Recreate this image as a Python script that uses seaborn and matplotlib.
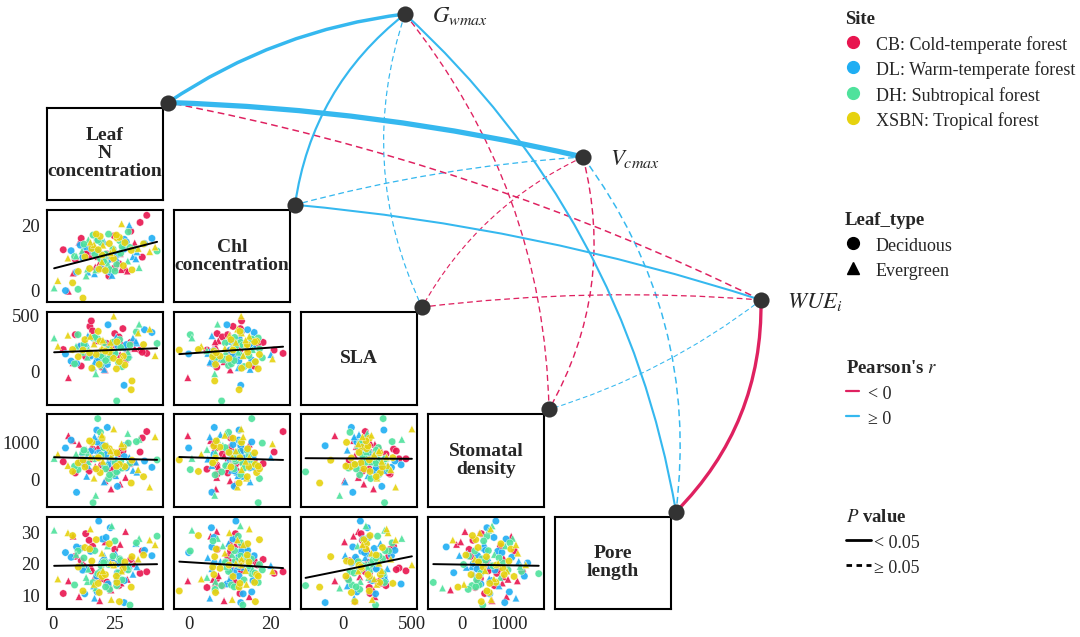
import numpy as np
import pandas as pd
import seaborn as sns
import matplotlib.pyplot as plt
from matplotlib.path import Path
from matplotlib.patches import PathPatch
from matplotlib.lines import Line2D

sns.set_style('white')
plt.rcParams['font.family'] = ['Liberation Serif', 'DejaVu Serif']
plt.rcParams['mathtext.fontset'] = 'stix'

# ---- trait values (one entry per sampled leaf) ----
leaf_n = [12.4, 25.1, 18.3, 31.6, 8.2, 22.7, 15.0, 27.3, 35.4, 19.8, 10.6, 24.2, 29.5, 16.1, 21.9, 6.3, 33.2, 14.7, 26.8, 20.4,
          17.2, 38.1, 11.5, 23.6, 28.4, 13.3, 30.2, 9.1, 19.0, 24.9, 36.3, 15.6, 21.2, 27.7, 4.2, 18.6, 32.5, 22.1, 12.9, 25.5,
          20.1, 14.2, 29.0, 7.4, 34.1, 23.3, 16.5, 26.2, 11.1, 19.4, 40.2, 21.6, 13.7, 28.9, 24.0, 17.8, 9.6, 31.0, 22.4, 15.3,
          26.3, 18.0, 33.7, 12.1, 20.8, 25.7, 5.1, 29.8, 16.9, 37.2, 22.6, 14.0, 27.1, 19.3, 10.2, 23.9, 30.6, 17.4, 42.3, 21.0,
          13.5, 24.4, 19.6, 35.0, 8.8, 27.5, 16.3, 22.2, 31.3, 11.8, 25.9, 18.2, 0.5, 28.1, 20.6, 14.4, 33.9, 23.0, 9.4, 26.6,
          17.0, 30.4, 21.4, 12.6, 25.2, 39.3, 15.8, 23.7, 19.2, 28.6, 6.1, 20.0, 32.1, 16.7, 24.6, 13.0, 27.9, 18.8, 34.6, 22.9,
          10.3, 26.0, 19.9, 29.2, 15.2, 21.3, 36.8, 12.2, 24.7, 17.6, 2.0, 31.8, 20.3, 14.9, 27.0, 23.4, 8.0, 18.4, 41.5, 25.8]
chl = [11.3, 7.0, 10.5, 18.3, 5.4, 4.5, 10.9, 11.4, 21.0, 6.9, 14.9, 9.8, 6.9, 13.1, 11.3, -0.2, 14.7, 11.8, 8.3, 10.0,
       7.3, 23.2, 16.1, 6.7, 12.7, 11.5, 6.0, 9.6, 8.7, 16.9, 10.3, 13.0, 10.2, 6.5, 12.6, 11.6, 10.5, 6.3, 13.4, 12.1,
       10.9, 5.7, 15.8, 12.3, 11.9, 5.6, 12.2, 11.2, 14.0, 7.8, 16.1, 6.2, 13.6, 12.8, 4.7, 12.4, 5.7, 20.2, 9.4, 12.9,
       11.2, 15.5, 9.8, 10.2, 15.1, 10.1, 0.0, 15.0, 5.2, 14.5, 17.4, 6.6, 15.4, 9.8, 0.4, 12.7, 18.1, 6.4, 12.2, 9.1,
       4.5, 12.8, 14.8, 7.1, 10.5, 11.5, 17.1, 8.4, 13.3, 12.2, 8.1, 15.5, 0.8, 13.6, 9.0, 15.7, 12.8, 6.5, 10.7, 16.3,
       11.3, 9.1, 11.2, 14.3, 6.0, 12.0, 13.0, 10.7, 16.7, 7.7, 10.0, 10.9, 6.4, 14.2, 9.9, 10.4, 20.6, 6.6, 13.0, 14.5,
       5.9, 16.2, 8.9, 14.8, 14.9, 6.2, 14.4, -2.3, 12.9, 17.4, 3.1, 12.4, 14.0, 6.8, 16.4, 11.6, 2.4, 12.6, 13.4, 17.1]
sla = [215, 340, 120, 260, 75, 190, 405, 150, 190, 35, 230, 180, 110, 365, 250, -60, 205, 140, 310, 95,
       275, 160, 45, 220, 385, 130, 200, 330, 85, 240, 170, 455, 10, 265, 195, 125, 300, 60, 235, 180,
       145, 320, 210, 90, 255, 175, 30, 280, 225, 115, 350, 185, 245, -130, 160, 295, 70, 150, 420, 135,
       230, 100, 270, 190, 15, 310, 155, 240, 80, 375, 200, 125, 285, 50, 330, 165, 120, -25, 250, 110,
       185, 260, 140, 425, 65, 215, 300, 105, 235, 170, -272, 290, 300, 40, 255, 195, 355, 120, 225, 80,
       305, 175, 95, 240, 160, 380, 25, 210, 270, 135, 325, 190, -90, 245, 115, 285, 110, 60, 345, 170,
       130, 265, 205, 55, 315, 180, 240, 190, 498, 150, 225, -170, 280, 165, 85, 260, 195, 360, 140, 20]
stomatal = [620, 150, 880, 430, 1050, 280, 560, -120, 740, 390, 950, 510, 60, 820, 340, 1180, 470, 230, 690, 890,
            350, 1290, 520, -250, 770, 410, 980, 180, 640, 300, 1120, 560, -30, 860, 480, 720, 250, 1400, 590, 110,
            940, 380, 620, 1060, 200, 530, 790, -180, 450, 1210, 330, 680, 90, 910, 550, 1330, -340, 600, 400, 760,
            240, 1010, 470, 700, -60, 580, 850, 320, 1150, 500, 30, 730, 420, 1270, 270, 640, 980, -420, 530, 370,
            810, 140, 660, 1080, 360, 500, -617, 920, 440, 750, 210, 1637, 570, 310, 860, 480, 1020, 130, 690, 400,
            560, 1240, 290, 790, 460, -200, 1000, 620, 190, 870, 380, 1110, 520, 40, 730, 340, 960, 580, 270, 830,
            450, 720, 1190, 350, 610, 900, 80, 530, 1360, 290, 680, -90, 490, 1040, 410, 770, 220, 590, 1150, 360]
pore = [19.2, 24.5, 15.8, 21.3, 28.7, 12.4, 18.6, 26.1, 16.9, 15.2, 9.5, 20.4, 30.2, 25.5, 14.1, 14.5, 19.9, 27.4, 13.0, 21.7,
        16.2, 17.4, 20.9, 11.6, 18.1, 29.5, 15.0, 22.3, 8.2, 19.6, 24.0, 17.7, 26.9, 13.8, 10.5, 33.5, 16.6, 20.2, 10.4, 23.1,
        27.8, 18.4, 14.6, 22.0, 19.0, 31.4, 12.9, 17.1, 24.8, 20.7, 22.5, 28.3, 18.8, 7.6, 21.9, 16.0, 25.3, 19.4, 13.5, 23.9,
        20.0, 11.0, 26.4, 17.9, 22.6, 15.2, 23.5, 18.3, 9.0, 24.2, 19.7, 14.3, 21.5, 17.5, 24.0, 32.0, 18.0, 12.2, 28.7, 20.6,
        15.6, 22.4, 19.3, 28.0, 13.2, 21.0, 14.0, 25.6, 6.8, 19.8, 13.0, 16.8, 30.6, 14.8, 20.3, 18.2, 26.6, 11.8, 22.9, 17.0,
        24.1, 19.1, 12.6, 21.8, 27.2, 27.5, 20.8, 8.6, 16.5, 18.5, 29.8, 15.9, 22.2, 13.4, 19.5, 25.1, 17.6, 10.8, 21.4, 26.3,
        18.9, 14.0, 23.3, 20.5, 31.0, 16.5, 22.7, 11.3, 19.6, 27.6, 15.1, 12.5, 17.8, 24.6, 7.9, 20.1, 28.9, 13.7, 26.0, 16.0]
# D = deciduous, E = evergreen
leaf_code = ("DDEDEDDEDDEDEDDEEDDE" "EDDEDDEDEDDDEEDDEDDE" "DEDDEDEDDEDDEDEDDEDD"
             "DDEDEEDDEDDEDDDEDEDD" "EDDEDDDEDEDDEDDEDDED" "DEDDDEDEDDEDDEDDEDED"
             "DDEDEDDDEDEDEDDEDDED")

site_names = ['CB', 'DL', 'DH', 'XSBN']
site_labels = ['CB: Cold-temperate forest', 'DL: Warm-temperate forest',
               'DH: Subtropical forest', 'XSBN: Tropical forest']
site_colors = ['#E8154F', '#1FAEF3', '#4FE29C', '#E6D20E']

traits = ['leaf_n', 'chl', 'sla', 'stomatal', 'pore']
trait_labels = ['Leaf\nN\nconcentration', 'Chl\nconcentration', 'SLA',
                'Stomatal\ndensity', 'Pore\nlength']
trait_lims = [(-2.4, 44.7), (-3.6, 24.9), (-305, 535), (-730, 1750), (5.5, 34.9)]
trait_ticks = [[0, 25], [0, 20], [0, 500], [0, 1000], [10, 20, 30]]

# ---- Mantel-style links: environment variable -> trait ----
env_labels = [r'$G_{wmax}$', r'$V_{cmax}$', r'$WUE_i$']
r_values = [[0.38, 0.21, 0.08, -0.10, 0.20],
            [0.62, 0.09, -0.07, -0.11, 0.12],
            [-0.12, 0.19, -0.09, 0.06, -0.36]]
p_values = [[0.001, 0.010, 0.310, 0.220, 0.012],
            [0.001, 0.270, 0.380, 0.180, 0.140],
            [0.150, 0.020, 0.260, 0.450, 0.001]]
curvature = [[-0.12, -0.2, -0.2, 0.17, 0.17],
             [-0.05, -0.05, -0.16, 0.2, 0.2],
             [-0.067, -0.056, -0.05, 0.09, 0.21]]
env_xy = [(405, 14), (583, 157), (761, 300)]

RED = '#DF2160'
BLUE = '#35B8EF'

df = pd.DataFrame({'leaf_n': leaf_n, 'chl': chl, 'sla': sla,
                   'stomatal': stomatal, 'pore': pore})
df['Site'] = np.repeat(site_names, len(df) // 4)
df['Leaf_type'] = ['Deciduous' if c == 'D' else 'Evergreen' for c in leaf_code]

W, H = 1080, 637
fig = plt.figure(figsize=(W / 100, H / 100), dpi=100)


def px_axes(x, y, w, h, **kw):
    return fig.add_axes([x / W, 1 - (y + h) / H, w / W, h / H], **kw)


col_x = [47 + 127 * k for k in range(5)]
row_y = [107.5 + 102.3 * k for k in range(5)]
pw, ph = 116, 92.5
node_xy = []

for i in range(5):
    for j in range(i + 1):
        ax = px_axes(col_x[j], row_y[i], pw, ph)
        for s in ax.spines.values():
            s.set_color('black')
            s.set_linewidth(1.5)
        if i == j:
            ax.set_xticks([])
            ax.set_yticks([])
            ax.text(0.5, 0.5, trait_labels[i], ha='center', va='center',
                    fontsize=14, fontweight='bold', linespacing=1.08,
                    transform=ax.transAxes)
            node_xy.append((col_x[j] + pw + 5, row_y[i] - 5))
            continue
        sns.scatterplot(data=df, x=traits[j], y=traits[i], hue='Site',
                        hue_order=site_names, palette=site_colors,
                        style='Leaf_type', markers={'Deciduous': 'o', 'Evergreen': '^'},
                        s=28, linewidth=0.3, edgecolor='white', alpha=0.9,
                        legend=False, ax=ax)
        sns.regplot(data=df, x=traits[j], y=traits[i], scatter=False, ci=None,
                    truncate=True, color='black', line_kws={'lw': 1.4}, ax=ax)
        ax.set_xlim(trait_lims[j])
        ax.set_ylim(trait_lims[i])
        ax.set_xlabel('')
        ax.set_ylabel('')
        ax.set_xticks(trait_ticks[j])
        ax.set_yticks(trait_ticks[i])
        ax.tick_params(length=3, width=0.8, colors='#333333', labelsize=13.5,
                       labelcolor='#222222', pad=2)
        if j > 0:
            ax.set_yticklabels([])
            ax.tick_params(axis='y', length=0)
        if i < 4:
            ax.set_xticklabels([])
            ax.tick_params(axis='x', length=0)

# ---- overlay with links and nodes ----
ov = fig.add_axes([0, 0, 1, 1], zorder=5)
ov.set_xlim(0, W)
ov.set_ylim(H, 0)
ov.axis('off')
ov.patch.set_alpha(0)

edges = []
for e in range(3):
    for t in range(5):
        edges.append((p_values[e][t] < 0.05, e, t))
edges.sort(key=lambda k: k[0])
for solid, e, t in edges:
    r = r_values[e][t]
    (x1, y1), (x2, y2) = env_xy[e], node_xy[t]
    dx, dy = x2 - x1, y2 - y1
    c = curvature[e][t]
    cx, cy = (x1 + x2) / 2 + c * dy, (y1 + y2) / 2 - c * dx
    path = Path([(x1, y1), (cx, cy), (x2, y2)], [Path.MOVETO, Path.CURVE3, Path.CURVE3])
    lw = (0.6 + 7.5 * abs(r)) * 0.72
    ls = '-' if solid else (0, (4.5, 2.8))
    ov.add_patch(PathPatch(path, fill=False, edgecolor=RED if r < 0 else BLUE,
                           lw=lw, linestyle=ls, capstyle='butt'))

all_nodes = env_xy + node_xy
ov.scatter([p[0] for p in all_nodes], [p[1] for p in all_nodes], s=135,
           color='#333333', zorder=10, linewidths=0)
label_off = [(27, 2), (27, 2), (26, 2)]
for (x, y), lab, (ox, oy) in zip(env_xy, env_labels, label_off):
    ov.text(x + ox, y + oy, lab, fontsize=16.5, ha='left', va='center')

# ---- legends ----
leg_kw = dict(loc='upper left', frameon=False, fontsize=13, borderpad=0,
              borderaxespad=0, alignment='left', labelspacing=0.35,
              handleheight=1.17,
              title_fontproperties={'weight': 'bold', 'size': 13.5})

h_site = [Line2D([], [], marker='o', ls='', color=c, markersize=8.5) for c in site_colors]
fig.legend(h_site, site_labels, title='Site', bbox_to_anchor=(845 / W, 1 - 11 / H),
           handlelength=0.9, handletextpad=0.8, **leg_kw)

h_leaf = [Line2D([], [], marker=m, ls='', color='black', markersize=ms)
          for m, ms in [('o', 8.5), ('^', 8.5)]]
fig.legend(h_leaf, ['Deciduous', 'Evergreen'], title='Leaf_type',
           bbox_to_anchor=(845 / W, 1 - 212 / H),
           handlelength=0.9, handletextpad=0.8, **leg_kw)

h_r = [Line2D([], [], color=RED, lw=1.6), Line2D([], [], color=BLUE, lw=1.6)]
fig.legend(h_r, ['< 0', '\u2265 0'], title="Pearson's $\\it{r}$",
           bbox_to_anchor=(846 / W, 1 - 360 / H), handlelength=0.7,
           handletextpad=0.5, **leg_kw)

h_p = [Line2D([], [], color='black', lw=2), Line2D([], [], color='black', lw=2, ls=(0, (2, 1.6)))]
fig.legend(h_p, ['< 0.05', '\u2265 0.05'], title='$\\it{P}$ value',
           bbox_to_anchor=(846 / W, 1 - 509 / H), handlelength=1.4,
           handletextpad=0.15, **leg_kw)

fig.savefig('out.png', dpi=100)
